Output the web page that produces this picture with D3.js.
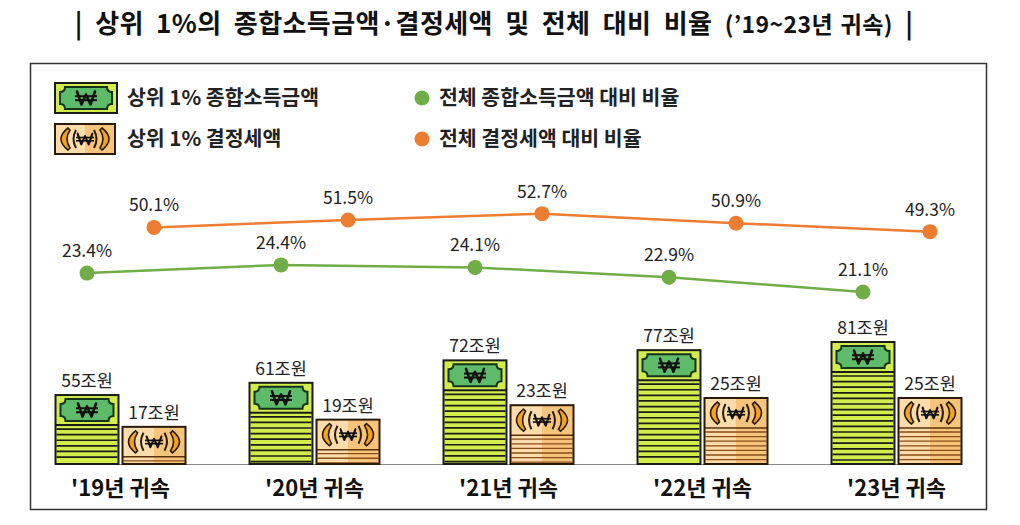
<!DOCTYPE html>
<html><head><meta charset="utf-8">
<script src="https://cdn.jsdelivr.net/npm/d3@7"></script>
<style>
body{margin:0;background:#fff;}
svg{display:block;font-family:"Noto Sans CJK KR","Noto Sans",sans-serif;}
</style></head>
<body>
<svg id="chart" width="1020" height="525"></svg>
<script>
// ---- data ----
const years = ["'19년 귀속","'20년 귀속","'21년 귀속","'22년 귀속","'23년 귀속"];
const incomeTop = [55, 61, 72, 77, 81];          // 상위 1% 종합소득금액 (조원)
const taxTop = [17, 19, 23, 25, 25];             // 상위 1% 결정세액 (조원)
const incomeShare = [23.4, 24.4, 24.1, 22.9, 21.1]; // 전체 종합소득금액 대비 비율 (%)
const taxShare = [50.1, 51.5, 52.7, 50.9, 49.3];    // 전체 결정세액 대비 비율 (%)
const seriesKeys = ["income", "tax"];
const legendBars = ["상위 1% 종합소득금액", "상위 1% 결정세액"];
const legendLines = ["전체 종합소득금액 대비 비율", "전체 결정세액 대비 비율"];
const titleMain = "| 상위 1%의 종합소득금액·결정세액 및 전체 대비 비율 ";
const titleSub = "(’19~23년 귀속)";

const svg = d3.select("#chart");
const GREEN = "#70ad47", ORANGE = "#ed7d31";
const baseY = 464;

// title
const t = svg.append("text").attr("x", 494).attr("y", 33).attr("text-anchor","middle")
  .attr("font-size", 26).attr("font-weight", 700).attr("fill", "#111")
  .attr("letter-spacing", 0.4);
t.append("tspan").attr("word-spacing", 6).text(titleMain);
t.append("tspan").attr("font-size", 23).attr("word-spacing", 2).text(titleSub);
t.append("tspan").attr("word-spacing", 6).text(" |");

// frame
svg.append("rect").attr("x",30.5).attr("y",63.5).attr("width",956).attr("height",446)
  .attr("fill","none").attr("stroke","#333").attr("stroke-width",1.5);

// scales
const xC = d3.scalePoint().domain(years).range([120.5, 896.5]);
const xIn = d3.scaleBand().domain(seriesKeys).range([-65, 65]).paddingInner(0.06);
const yIncome = d3.scaleLinear().domain([21.2, 81]).range([baseY, 342]);
const yTax = d3.scaleLinear().domain([6.7, 25]).range([baseY, 398]);
const yIncShare = d3.scaleLinear().domain([20, 25]).range([301, 260]);
const yTaxShare = d3.scaleLinear().domain([48, 54]).range([238.5, 206.8]);

const BILL_H = 30;

function won(g, cx, cy, s) {
  const w = 9*s, h = 6.5*s;
  g.append("path").attr("d", `M${cx-w},${cy-h} L${cx-w/2},${cy+h} L${cx},${cy-h*0.55} L${cx+w/2},${cy+h} L${cx+w},${cy-h}`)
    .attr("fill","none").attr("stroke","#111").attr("stroke-width",2.6*s).attr("stroke-linejoin","round").attr("stroke-linecap","round");
  [-1.8*s, 2.2*s].forEach(dy => {
    g.append("line").attr("x1",cx-w-2*s).attr("x2",cx+w+2*s).attr("y1",cy+dy).attr("y2",cy+dy)
      .attr("stroke","#111").attr("stroke-width",2*s);
  });
}

function greenIcon(g, x, y, w, h) {
  g.append("rect").attr("x",x).attr("y",y).attr("width",w).attr("height",h)
    .attr("fill","#d2ec4c").attr("stroke","#1b1b1b").attr("stroke-width",2);
  const s = g.append("g");
  for (let yy = y + BILL_H + 4; yy < y + h - 2; yy += 5.6) {
    s.append("line").attr("x1",x+1).attr("x2",x+w-1).attr("y1",yy).attr("y2",yy)
      .attr("stroke","#1b1b1b").attr("stroke-width",1.7);
  }
  if (h > BILL_H + 2) {
    g.append("line").attr("x1",x).attr("x2",x+w).attr("y1",y+BILL_H).attr("y2",y+BILL_H)
      .attr("stroke","#1b1b1b").attr("stroke-width",2);
  }
  const bx0 = x+5, bx1 = x+w-5, by0 = y+4, by1 = y+BILL_H-4, r = 5;
  const p = `M${bx0+r},${by0} L${bx1-r},${by0} Q${bx1-r},${by0+r} ${bx1},${by0+r} L${bx1},${by1-r} Q${bx1-r},${by1-r} ${bx1-r},${by1} L${bx0+r},${by1} Q${bx0+r},${by1-r} ${bx0},${by1-r} L${bx0},${by0+r} Q${bx0+r},${by0+r} ${bx0+r},${by0} Z`;
  g.append("path").attr("d",p).attr("fill","#5dbb69").attr("stroke","#15321a").attr("stroke-width",2);
  won(g, x+w/2, y+BILL_H/2, 1);
}

function orangeIcon(g, x, y, w, h) {
  g.append("rect").attr("x",x).attr("y",y).attr("width",w).attr("height",h)
    .attr("fill","#fbdcaa");
  g.append("rect").attr("x",x+w/2).attr("y",y).attr("width",w/2).attr("height",h)
    .attr("fill","#f7c47c");
  const s = g.append("g");
  for (let yy = y + BILL_H + 4; yy < y + h - 1; yy += 4.6) {
    s.append("line").attr("x1",x+1).attr("x2",x+w-1).attr("y1",yy).attr("y2",yy)
      .attr("stroke","#8a4d17").attr("stroke-width",1.3);
  }
  if (h > BILL_H + 2) {
    g.append("line").attr("x1",x).attr("x2",x+w).attr("y1",y+BILL_H).attr("y2",y+BILL_H)
      .attr("stroke","#5a2f0c").attr("stroke-width",1.5);
  }
  g.append("rect").attr("x",x).attr("y",y).attr("width",w).attr("height",h)
    .attr("fill","none").attr("stroke","#2a1a0a").attr("stroke-width",2);
  const top = y+4, bot = y+BILL_H-4, mid = y+BILL_H/2;
  const L = `M${x+13},${top} Q${x-1},${mid} ${x+13},${bot} L${x+15},${bot-2} Q${x+9},${mid} ${x+15},${top+2} Z`;
  const R = `M${x+w-13},${top} Q${x+w+1},${mid} ${x+w-13},${bot} L${x+w-15},${bot-2} Q${x+w-9},${mid} ${x+w-15},${top+2} Z`;
  g.append("path").attr("d",L).attr("fill","#f5a21c").attr("stroke","#2a1a0a").attr("stroke-width",1.6);
  g.append("path").attr("d",R).attr("fill","#f5a21c").attr("stroke","#2a1a0a").attr("stroke-width",1.6);
  g.append("path").attr("d",`M${x+21},${top+2} Q${x+16},${mid} ${x+21},${bot-2}`)
    .attr("fill","none").attr("stroke","#2a1a0a").attr("stroke-width",2);
  g.append("path").attr("d",`M${x+w-21},${top+2} Q${x+w-16},${mid} ${x+w-21},${bot-2}`)
    .attr("fill","none").attr("stroke","#2a1a0a").attr("stroke-width",2);
  won(g, x+w/2, mid, 0.82);
}

// legend
const lg = svg.append("g");
greenIcon(lg.append("g"), 55, 83, 62, BILL_H);
orangeIcon(lg.append("g"), 55, 124, 60, BILL_H);
legendBars.forEach((txt, i) => {
  lg.append("text").attr("x",127).attr("y",[98,139][i]+7).attr("font-size",20.5)
    .attr("font-weight",700).attr("fill","#222").text(txt);
});
[GREEN, ORANGE].forEach((c, i) => {
  lg.append("circle").attr("cx",422).attr("cy",[98,139][i]).attr("r",7.5).attr("fill",c);
  lg.append("text").attr("x",439).attr("y",[98,139][i]+7).attr("font-size",20.5)
    .attr("font-weight",700).attr("fill","#222").text(legendLines[i]);
});

// baseline
svg.append("line").attr("x1",55).attr("x2",961).attr("y1",baseY+0.5).attr("y2",baseY+0.5)
  .attr("stroke","#8a8a8a").attr("stroke-width",1.2);

// bars
const bars = svg.append("g");
years.forEach((yr, i) => {
  const cx = xC(yr);
  const gx = cx + xIn("income"), gw = xIn.bandwidth();
  const gy = yIncome(incomeTop[i]);
  greenIcon(bars.append("g"), gx, gy, gw, baseY - gy);
  bars.append("text").attr("x",gx+gw/2).attr("y",gy-8).attr("text-anchor","middle")
    .attr("font-size",17.5).attr("fill","#222").text(incomeTop[i] + "조원");
  const ox = cx + xIn("tax");
  const oy = yTax(taxTop[i]);
  orangeIcon(bars.append("g"), ox, oy, gw, baseY - oy);
  bars.append("text").attr("x",ox+gw/2).attr("y",oy-8).attr("text-anchor","middle")
    .attr("font-size",17.5).attr("fill","#222").text(taxTop[i] + "조원");
  bars.append("text").attr("x",cx).attr("y",496).attr("text-anchor","middle")
    .attr("font-size",22).attr("font-weight",700).attr("fill","#111").text(yr);
});

// lines
function drawLine(vals, yScale, key, color) {
  const pts = vals.map((v, i) => [xC(years[i]) + xIn(key) + xIn.bandwidth()/2, yScale(v), v]);
  svg.append("path").attr("d", d3.line()(pts.map(p => [p[0], p[1]])))
    .attr("fill","none").attr("stroke",color).attr("stroke-width",2.5);
  const g = svg.append("g");
  g.selectAll("circle").data(pts).join("circle").attr("cx",d=>d[0]).attr("cy",d=>d[1])
    .attr("r",7.5).attr("fill",color);
  g.selectAll("text").data(pts).join("text").attr("x",d=>d[0]).attr("y",d=>d[1]-16)
    .attr("text-anchor","middle").attr("font-size",17.5).attr("fill","#222")
    .text(d => d[2].toFixed(1) + "%");
}
drawLine(incomeShare, yIncShare, "income", GREEN);
drawLine(taxShare, yTaxShare, "tax", ORANGE);
</script>
</body></html>
